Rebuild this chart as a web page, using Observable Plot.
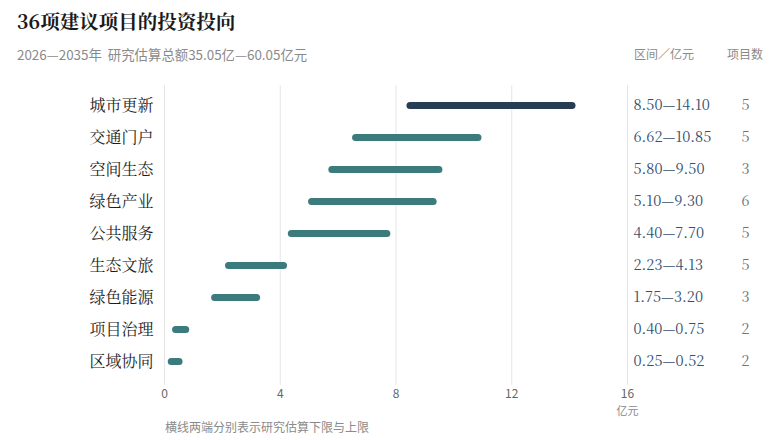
<!DOCTYPE html>
<html><head><meta charset="utf-8">
<script src="https://cdn.jsdelivr.net/npm/d3@7"></script>
<script src="https://cdn.jsdelivr.net/npm/@observablehq/plot@0.6"></script>
<style>
body{margin:0;background:#fff;width:782px;height:440px;position:relative;overflow:hidden}
.t{position:absolute;white-space:nowrap}
#title{left:17px;top:7px;font:700 19.5px "Noto Serif CJK SC","DejaVu Serif",serif;color:#1a1a1a}
#sub{left:17px;top:44px;font:13.4px "Noto Sans CJK SC","Noto Sans",sans-serif;color:#8a8a8a}
.hd{top:45px;font:12px "Noto Sans CJK SC","Noto Sans",sans-serif;color:#8a8a8a}
#cap{left:165px;top:418px;font:12px "Noto Sans CJK SC","Noto Sans",sans-serif;color:#8a8a8a}
#chart{position:absolute;left:0;top:75px}
</style></head>
<body>
<div id="title" class="t">36项建议项目的投资投向</div>
<div id="sub" class="t">2026—2035年&nbsp; 研究估算总额35.05亿—60.05亿元</div>
<div class="t hd" style="left:634px">区间／亿元</div>
<div class="t hd" style="left:727px">项目数</div>
<div id="chart"></div>
<div id="cap" class="t">横线两端分别表示研究估算下限与上限</div>
<script>
const categories = ["城市更新","交通门户","空间生态","绿色产业","公共服务","生态文旅","绿色能源","项目治理","区域协同"];
const lows  = [8.50, 6.62, 5.80, 5.10, 4.40, 2.23, 1.75, 0.40, 0.25];
const highs = [14.10, 10.85, 9.50, 9.30, 7.70, 4.13, 3.20, 0.75, 0.52];
const rangeLabels = ["8.50—14.10","6.62—10.85","5.80—9.50","5.10—9.30","4.40—7.70","2.23—4.13","1.75—3.20","0.40—0.75","0.25—0.52"];
const counts = [5, 5, 3, 6, 5, 5, 3, 2, 2];
const xTicks = [0, 4, 8, 12, 16];

const data = categories.map((c, i) => ({name: c, lo: lows[i], hi: highs[i], label: rangeLabels[i], n: counts[i], top: i === 0}));

const serif = '"Noto Serif CJK SC","DejaVu Serif",serif';
const chart = Plot.plot({
  width: 782,
  height: 345,
  marginLeft: 164,
  marginRight: 155,
  marginTop: 12,
  marginBottom: 42,
  style: {background: "transparent", fontFamily: '"Noto Sans CJK SC","Noto Sans",sans-serif'},
  x: {domain: [0, 16], ticks: xTicks, label: null},
  y: {type: "point", domain: categories, label: null, padding: 0.5},
  marks: [
    Plot.ruleX(xTicks, {x: d => d, stroke: "#e6e6e6", strokeWidth: 1, insetTop: -2, insetBottom: -7}),
    Plot.axisX({ticks: xTicks, tickSize: 0, tickPadding: 11, fontSize: 12, color: "#666", label: null}),
    Plot.axisY({tickSize: 0, tickPadding: 11, fontSize: 16, fontFamily: serif, color: "#1e1e1e", label: null}),
    Plot.ruleY(data, {y: "name", x1: "lo", x2: "hi", stroke: d => d.top ? "#263d54" : "#3b7a7d", strokeWidth: 7, strokeLinecap: "round"}),
    Plot.text(data, {y: "name", text: "label", frameAnchor: "right", dx: 6, textAnchor: "start", fontSize: 14.5, fontFamily: serif, fill: "#34506e"}),
    Plot.text(data, {y: "name", text: d => String(d.n), frameAnchor: "right", dx: 118, textAnchor: "middle", fontSize: 14.5, fontFamily: serif, fill: "#6a7480"}),
    Plot.text(["亿元"], {frameAnchor: "bottom-right", dy: 33, lineAnchor: "middle", textAnchor: "middle", fontSize: 11, fill: "#888"})
  ]
});
document.getElementById("chart").appendChild(chart);
</script>
</body></html>
